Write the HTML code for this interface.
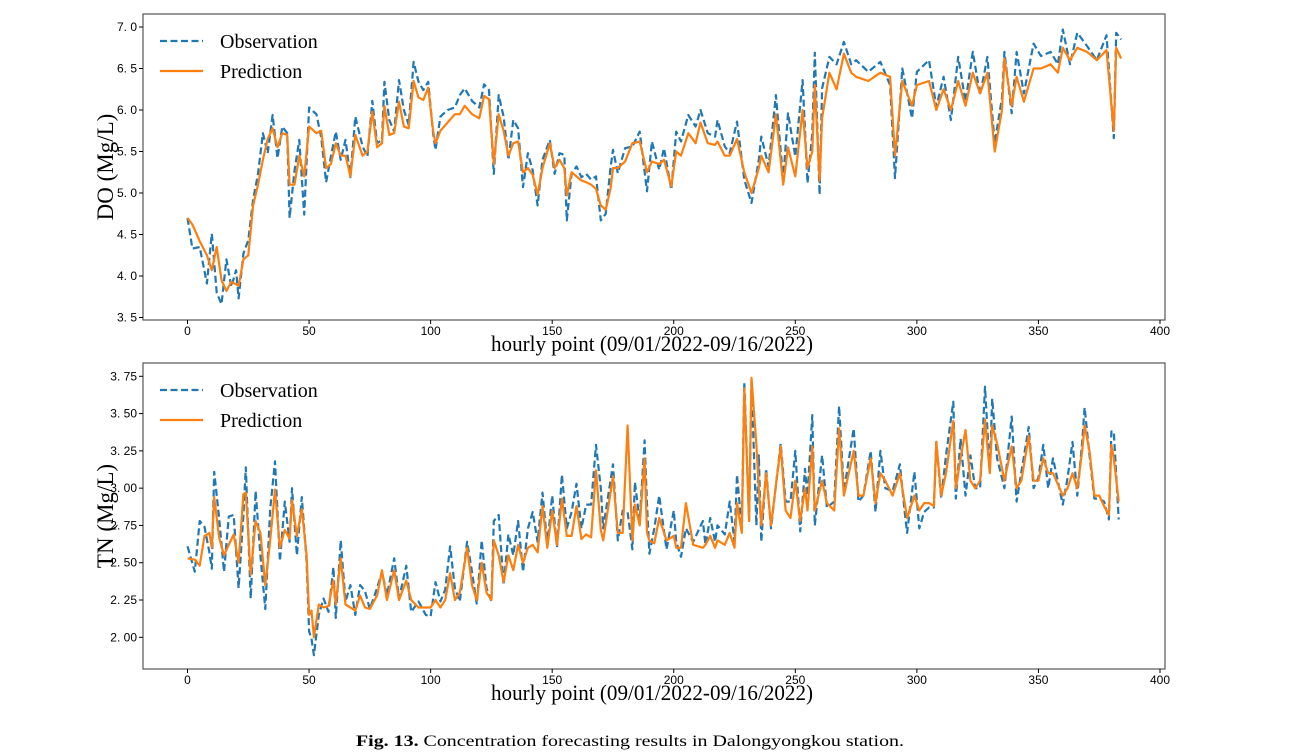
<!DOCTYPE html>
<html><head><meta charset="utf-8"><style>
html,body{margin:0;padding:0;background:#fff;}
svg{display:block;}
.tick{font-family:"Liberation Sans",sans-serif;font-size:12px;fill:#000;}
.ser{font-family:"Liberation Serif",serif;fill:#000;}
</style></head><body>
<svg id="chart" width="1296" height="756" viewBox="0 0 1296 756" xmlns="http://www.w3.org/2000/svg">
<rect width="1296" height="756" fill="#fff"/>
<text class="ser" x="630" y="746" font-size="16" text-anchor="middle" textLength="548" lengthAdjust="spacingAndGlyphs"><tspan font-weight="bold">Fig. 13.</tspan> Concentration forecasting results in Dalongyongkou station.</text>
</svg>
<script>
const xTicks = [0,50,100,150,200,250,300,350,400];
const doTicks = [3.5,4.0,4.5,5.0,5.5,6.0,6.5,7.0];
const doTickLabels = ["3. 5","4. 0","4. 5","5. 0","5. 5","6. 0","6. 5","7. 0"];
const tnTicks = [2.0,2.25,2.5,2.75,3.0,3.25,3.5,3.75];
const tnTickLabels = ["2. 00","2. 25","2. 50","2. 75","3. 00","3. 25","3. 50","3. 75"];

const doHours = [0,2,5,8,10,12,14,16,18,20,21,23,25,27,29,31,33,35,37,39,41,42,44,46,48,50,53,55,57,59,61,63,65,67,69,72,74,76,78,80,81,83,85,87,89,91,93,95,97,99,101,102,104,107,110,112,114,117,120,122,124,126,128,130,132,134,136,138,140,142,144,146,149,151,153,155,156,158,160,162,164,166,168,170,172,174,175,177,180,183,186,189,191,194,196,199,201,203,206,209,211,214,217,218,221,223,226,229,232,235,236,239,242,245,247,250,253,255,257,258,260,261,264,267,270,273,275,280,285,289,291,294,298,300,305,308,311,314,317,320,323,326,329,332,335,336,339,341,344,348,351,355,358,360,363,366,370,374,378,381,382,384];
const doObs = [4.70,4.33,4.35,3.91,4.51,3.80,3.66,4.2,3.87,4.07,3.73,4.27,4.43,4.92,5.23,5.72,5.48,5.94,5.42,5.8,5.72,4.70,5.27,5.64,4.74,6.03,5.95,5.67,5.13,5.44,5.74,5.40,5.64,5.19,5.92,5.56,5.44,6.11,5.6,5.64,6.34,5.88,5.74,6.36,6.0,5.82,6.58,6.34,6.24,6.34,5.72,5.52,5.92,6.0,6.03,6.18,6.26,6.11,6.03,6.31,6.24,5.23,6.18,5.92,5.4,5.88,5.78,5.07,5.48,5.27,4.85,5.4,5.64,5.23,5.48,5.46,4.67,5.23,5.32,5.19,5.23,5.16,5.2,4.67,4.75,5.3,5.52,5.24,5.54,5.56,5.74,5.02,5.62,5.28,5.54,5.04,5.74,5.62,5.94,5.8,6.0,5.72,5.68,5.88,5.56,5.48,5.86,5.16,4.88,5.4,5.68,5.32,6.18,5.16,5.96,5.44,6.36,5.12,5.72,6.69,4.98,6.26,6.64,6.55,6.82,6.55,6.6,6.46,6.58,6.3,5.18,6.5,5.9,6.46,6.6,6.04,6.40,5.88,6.64,6.1,6.7,6.18,6.64,5.6,6.15,6.7,5.96,6.7,6.2,6.8,6.65,6.7,6.55,6.97,6.55,6.93,6.77,6.6,6.9,5.66,6.93,6.85];
const doPred = [4.70,4.62,4.42,4.25,4.07,4.35,3.95,3.82,3.93,3.9,3.88,4.2,4.25,4.85,5.1,5.4,5.65,5.78,5.55,5.72,5.7,5.1,5.1,5.45,5.2,5.8,5.72,5.75,5.3,5.35,5.6,5.45,5.45,5.2,5.7,5.45,5.5,5.98,5.55,5.6,6.05,5.7,5.72,6.1,5.8,5.78,6.35,6.15,6.12,6.27,5.75,5.6,5.75,5.85,5.95,5.95,6.05,5.95,5.9,6.17,6.13,5.35,5.95,5.75,5.45,5.6,5.62,5.25,5.3,5.22,4.98,5.3,5.6,5.3,5.4,5.3,4.97,5.25,5.2,5.15,5.13,5.1,5.05,4.85,4.8,5.05,5.3,5.3,5.38,5.6,5.62,5.25,5.38,5.35,5.4,5.08,5.5,5.45,5.72,5.6,5.85,5.6,5.58,5.62,5.45,5.45,5.65,5.25,5.0,5.3,5.45,5.25,5.95,5.1,5.55,5.2,6.0,5.3,5.5,6.3,5.15,5.9,6.45,6.25,6.68,6.45,6.4,6.35,6.45,6.4,5.45,6.35,6.05,6.3,6.35,6.0,6.25,6.0,6.35,6.05,6.45,6.2,6.45,5.5,6.0,6.62,6.05,6.4,6.1,6.5,6.5,6.55,6.45,6.75,6.6,6.75,6.7,6.6,6.72,5.75,6.75,6.62];

const tnHours = [0,3,5,7,9,10,11,13,15,17,19,21,23,24,26,28,30,32,34,36,38,40,42,43,45,47,49,50,51,52,54,56,58,60,61,63,65,67,69,71,73,75,78,80,82,85,87,90,92,95,98,100,102,104,106,108,110,112,115,117,119,121,123,125,126,128,130,132,134,136,138,140,142,144,146,148,150,152,154,156,158,160,162,164,166,168,170,171,175,177,179,181,183,184,186,188,189,190,192,194,197,200,201,203,205,208,212,213,215,217,218,221,223,225,226,228,229,231,232,234,235,236,238,240,244,246,248,250,252,254,255,257,258,261,263,266,268,270,274,276,278,281,283,285,287,290,293,295,296,299,301,303,305,307,308,310,312,315,316,318,320,322,324,326,328,330,331,333,336,339,341,343,346,348,350,352,354,356,360,362,364,366,368,369,371,373,375,377,379,380,381,383];
const tnObs = [2.61,2.44,2.78,2.74,2.57,2.46,3.11,2.80,2.44,2.81,2.82,2.33,2.82,3.14,2.26,2.98,2.55,2.19,2.86,3.18,2.51,2.91,2.64,3.0,2.55,2.94,2.51,2.04,1.99,1.88,2.15,2.26,2.17,2.47,2.13,2.65,2.24,2.35,2.15,2.35,2.31,2.19,2.33,2.44,2.28,2.53,2.26,2.48,2.17,2.24,2.15,2.14,2.37,2.24,2.32,2.61,2.33,2.24,2.64,2.44,2.22,2.65,2.33,2.24,2.78,2.82,2.35,2.69,2.55,2.78,2.44,2.73,2.84,2.64,2.97,2.62,2.95,2.6,3.09,2.73,2.84,3.03,2.73,2.89,2.89,3.29,3.0,2.73,3.16,2.65,2.85,2.84,2.59,3.04,2.78,3.32,2.89,2.56,2.73,2.95,2.59,2.85,2.64,2.54,2.73,2.64,2.78,2.62,2.8,2.64,2.75,2.69,2.91,2.64,3.09,2.73,3.71,2.78,3.71,2.75,3.22,2.64,3.13,2.73,3.30,2.91,2.91,3.25,2.71,3.13,2.95,3.49,2.75,3.22,2.87,2.91,3.55,2.98,3.40,2.91,2.95,3.25,2.84,3.25,3.0,2.98,3.16,2.84,2.70,3.11,2.73,2.84,2.87,2.87,3.31,2.93,3.22,3.58,2.93,3.33,2.95,3.22,3.0,3.0,3.68,3.11,3.60,3.2,3.0,3.48,2.91,3.11,3.41,3.0,3.07,3.29,3.0,3.2,2.89,3.07,3.31,2.95,3.31,3.54,3.22,2.93,2.93,2.91,2.79,3.38,3.38,2.79];
const tnPred = [2.53,2.52,2.48,2.68,2.7,2.6,2.94,2.67,2.55,2.62,2.69,2.5,2.96,2.97,2.42,2.78,2.7,2.35,2.65,2.99,2.6,2.72,2.66,2.92,2.68,2.86,2.55,2.15,2.18,2.0,2.22,2.2,2.21,2.38,2.22,2.53,2.22,2.2,2.18,2.28,2.2,2.19,2.28,2.45,2.25,2.45,2.25,2.38,2.25,2.2,2.2,2.2,2.25,2.2,2.25,2.43,2.25,2.3,2.6,2.35,2.25,2.5,2.3,2.25,2.65,2.55,2.37,2.55,2.45,2.62,2.5,2.6,2.62,2.57,2.88,2.6,2.85,2.62,2.93,2.68,2.68,2.88,2.66,2.69,2.67,3.12,2.72,2.65,3.08,2.7,2.7,3.42,2.65,2.89,2.75,3.2,2.7,2.65,2.63,2.8,2.65,2.68,2.6,2.6,2.9,2.62,2.6,2.62,2.68,2.6,2.65,2.62,2.7,2.6,2.9,2.7,3.67,2.78,3.74,3.29,3.0,2.75,3.1,2.75,3.28,2.85,2.8,3.05,2.78,3.0,2.85,3.28,2.85,3.05,2.9,2.85,3.4,2.95,3.25,2.95,2.95,3.2,2.9,3.1,3.05,2.95,3.1,2.9,2.8,2.95,2.85,2.9,2.9,2.88,3.31,2.95,3.1,3.45,3.0,3.2,3.39,3.05,3.0,3.05,3.46,3.1,3.42,3.3,3.05,3.28,3.0,3.05,3.35,3.05,3.05,3.2,3.1,3.1,2.95,3.0,3.1,3.0,3.25,3.42,3.25,2.95,2.95,2.88,2.82,3.29,3.2,2.91];

const NS = "http://www.w3.org/2000/svg";
const svg = document.getElementById('chart');
function mk(tag, attrs, parent){const e=document.createElementNS(NS,tag);for(const k in attrs)e.setAttribute(k,attrs[k]);(parent||svg).appendChild(e);return e;}

function panel(cfg){
  const g = mk('g',{});
  
  
  const L=143,R=1165,T=cfg.top,B=cfg.bottom;
  const xs = v => 187.5 + v*(1160-187.5)/400;
  const ys = v => cfg.y0px + (v-cfg.y0)*(cfg.y1px-cfg.y0px)/(cfg.y1-cfg.y0);
  const frame = mk('rect',{x:L,y:T,width:R-L,height:B-T,fill:'none',stroke:'#555','stroke-width':1.2},g);
  
  
  xTicks.forEach(t=>{
    const x=xs(t);
    const tk = mk('line',{x1:x,x2:x,y1:B,y2:B+4,stroke:'#000','stroke-width':1},g);
    
    
    const tl = mk('text',{x:x,y:B+15,'text-anchor':'middle',class:'tick'},g);
    
    
    tl.textContent = t;
  });
  cfg.ticks.forEach((t,i)=>{
    const y=ys(t);
    const tk = mk('line',{x1:L-4,x2:L,y1:y,y2:y,stroke:'#000','stroke-width':1},g);
    
    
    const tl = mk('text',{x:L-6,y:y+4,'text-anchor':'end',class:'tick'},g);
    
    
    tl.textContent = cfg.labels[i];
  });
  function line(vals,color,dash,name){
    const d = cfg.hours.map((h,i)=>(i?'L':'M')+xs(h).toFixed(1)+','+ys(vals[i]).toFixed(1)).join(' ');
    const p = mk('path',{d:d,fill:'none',stroke:color,'stroke-width':2.2,'stroke-linejoin':'round'},g);
    if(dash) p.setAttribute('stroke-dasharray',dash);
    
    
  }
  line(cfg.obs,'#1f77b4','7,3.5','observation-line');
  line(cfg.pred,'#ff7f0e',null,'prediction-line');
  const lg = mk('g',{},g);
  
  
  const l1 = mk('line',{x1:160,x2:203,y1:T+27,y2:T+27,stroke:'#1f77b4','stroke-width':2.2,'stroke-dasharray':'7,3.5'},lg);
  
  
  const t1 = mk('text',{x:220,y:T+34,class:'ser','font-size':20},lg);
  
  
  t1.textContent='Observation';
  const l2 = mk('line',{x1:160,x2:203,y1:T+57,y2:T+57,stroke:'#ff7f0e','stroke-width':2.2},lg);
  
  
  const t2 = mk('text',{x:220,y:T+64,class:'ser','font-size':20},lg);
  
  
  t2.textContent='Prediction';
  const xl = mk('text',{x:652,y:B+31,'text-anchor':'middle',class:'ser','font-size':22,textLength:322,lengthAdjust:'spacingAndGlyphs'},g);
  
  
  xl.textContent='hourly point (09/01/2022-09/16/2022)';
  const cy=(T+B)/2;
  const yl = mk('text',{x:0,y:0,'text-anchor':'middle',class:'ser','font-size':23,transform:'translate(113,'+cy+') rotate(-90)'},g);
  
  
  yl.textContent=cfg.ylabel;
}
panel({name:'do-panel',top:14,bottom:320,y0:3.5,y1:7.0,y0px:317.5,y1px:27,ticks:doTicks,labels:doTickLabels,hours:doHours,obs:doObs,pred:doPred,ylabel:'DO (Mg/L)'});
panel({name:'tn-panel',top:363,bottom:669,y0:2.0,y1:3.75,y0px:637.3,y1px:376.3,ticks:tnTicks,labels:tnTickLabels,hours:tnHours,obs:tnObs,pred:tnPred,ylabel:'TN (Mg/L)'});
</script>
</body></html>
